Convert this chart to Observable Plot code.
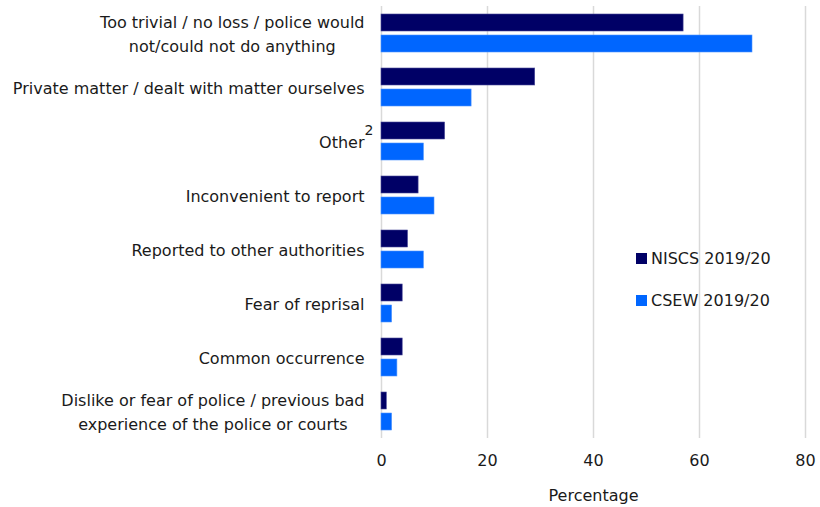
<!DOCTYPE html>
<html>
<head>
<meta charset="utf-8">
<script src="https://cdn.jsdelivr.net/npm/d3@7"></script>
<script src="https://cdn.jsdelivr.net/npm/@observablehq/plot@0.6"></script>
<style>
  body { margin: 0; background: #fff; }
  #wrap { position: relative; width: 820px; height: 507px; font-family: "DejaVu Sans", sans-serif; }
  #legend { position: absolute; left: 636px; top: 246px; font-size: 16px; color: #1a1a1a; }
  #legend .row { display: flex; align-items: center; height: 24px; margin-bottom: 18px; white-space: nowrap; }
  #legend .sw { width: 11px; height: 11px; margin-right: 4px; }
</style>
</head>
<body>
<div id="wrap"><div id="legend"></div></div>
<script>
const categories = [
  "Too trivial / no loss / police would\nnot/could not do anything",
  "Private matter / dealt with matter ourselves",
  "Other",
  "Inconvenient to report",
  "Reported to other authorities",
  "Fear of reprisal",
  "Common occurrence",
  "Dislike or fear of police / previous bad\nexperience of the police or courts"
];
const series = ["NISCS 2019/20", "CSEW 2019/20"];
const niscs = [57, 29, 12, 7, 5, 4, 4, 1];
const csew = [70, 17, 8, 10, 8, 2, 3, 2];
const xTicks = [0, 20, 40, 60, 80];
const colors = ["#000066", "#0066ff"];

const rows = [];
categories.forEach((c, i) => {
  rows.push({category: c, series: series[0], value: niscs[i]});
  rows.push({category: c, series: series[1], value: csew[i]});
});

const FONT = '16px "DejaVu Sans"';
const ctx = document.createElement("canvas").getContext("2d");
ctx.font = FONT;
const labelWidth = (s) => Math.max(...s.split("\n").map(l => ctx.measureText(l).width));
const GAP = 17;

const labelMarks = categories.map(c => Plot.text([c], {
  fy: d => d, x: 0, text: d => d,
  textAnchor: "middle", lineHeight: 1.45,
  dx: -(GAP + labelWidth(c) / 2),
  dy: -1,
  fontSize: 16, fill: "#1a1a1a"
}));

const chart = Plot.plot({
  width: 820, height: 507,
  marginLeft: 381, marginRight: 15, marginTop: 6, marginBottom: 69,
  style: {fontFamily: "DejaVu Sans, sans-serif", fontSize: "16px", color: "#1a1a1a"},
  x: {domain: [0, 80], ticks: xTicks},
  fy: {domain: categories, padding: 0, axis: null},
  y: {domain: series, paddingInner: 0.18, paddingOuter: 0.32, axis: null},
  color: {domain: series, range: colors},
  marks: [
    Plot.ruleX(xTicks, {stroke: "#d9d9d9", strokeWidth: 1.5}),
    Plot.barX(rows, {fy: "category", y: "series", x: "value", fill: "series", stroke: d => d.series === series[0] ? "#4a4a99" : "#4d94ff", strokeWidth: 0.6}),
    ...labelMarks,
    Plot.text(["Other"], {fy: d => d, x: 0, text: () => "2", textAnchor: "end", dx: -8, dy: -11, fontSize: 14, fill: "#1a1a1a"}),
    Plot.axisX(xTicks, {anchor: "bottom", tickSize: 0, tickPadding: 16, fontSize: 16, label: "Percentage", labelAnchor: "center", labelOffset: 62, labelArrow: "none"})
  ]
});
document.getElementById("wrap").prepend(chart);

const legend = document.getElementById("legend");
series.forEach((s, i) => {
  const row = document.createElement("div");
  row.className = "row";
  row.innerHTML = `<div class="sw" style="background:${colors[i]}"></div><span>${s}</span>`;
  legend.appendChild(row);
});
</script>
</body>
</html>
